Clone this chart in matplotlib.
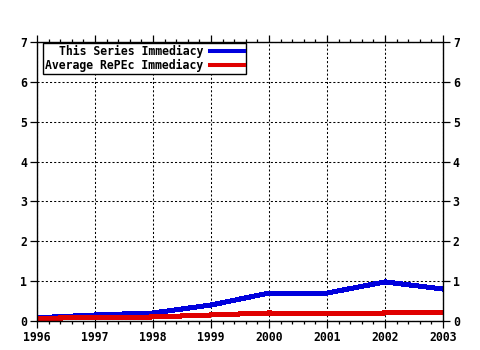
import matplotlib
matplotlib.use("Agg")
import matplotlib.pyplot as plt
from matplotlib.ticker import MultipleLocator

years = [1996, 1997, 1998, 1999, 2000, 2001, 2002, 2003]
series_immediacy = [0.08, 0.15, 0.20, 0.40, 0.70, 0.70, 0.98, 0.80]
repec_immediacy = [0.07, 0.08, 0.10, 0.15, 0.20, 0.18, 0.20, 0.22]
series_labels = ["This Series Immediacy", "Average RePEc Immediacy"]

font = {"family": "DejaVu Sans Mono", "weight": "bold", "size": 8.3}

fig = plt.figure(figsize=(4.8, 3.5), dpi=100)
ax = fig.add_axes([0.077, 0.083, 0.846, 0.797])

ax.plot(years, series_immediacy, color="#0000dd", lw=2.9, label=series_labels[0],
        antialiased=False, solid_joinstyle="miter")
ax.plot(years, repec_immediacy, color="#e00000", lw=2.9, label=series_labels[1],
        antialiased=False, solid_joinstyle="miter")

ax.set_xlim(years[0], years[-1])
ax.set_ylim(0, 7)
ax.xaxis.set_major_locator(MultipleLocator(1))
ax.xaxis.set_minor_locator(MultipleLocator(0.2))
ax.yaxis.set_major_locator(MultipleLocator(1))

# dotted grid: 2px on, 2px off
ax.grid(True, which="major", color="black", linestyle=(0, (2, 2)), linewidth=0.75)
ax.tick_params(which="both", direction="out", top=True, right=True,
               labelright=True, color="black", width=0.9)
ax.tick_params(which="major", length=5, pad=2)
ax.tick_params(which="minor", length=2.5)
for spine in ax.spines.values():
    spine.set_linewidth(1.0)

for lbl in ax.get_xticklabels() + ax.get_yticklabels():
    lbl.set_fontproperties(font)
for t in ax.yaxis.get_major_ticks():
    t.label2.set_fontproperties(font)

leg = ax.legend(loc="upper left", bbox_to_anchor=(0.015, 0.997), markerfirst=False,
                prop=font, frameon=True, fancybox=False, borderpad=0.15,
                labelspacing=0.15, handlelength=3.0, handletextpad=0.6,
                borderaxespad=0.0)
leg.get_frame().set_edgecolor("black")
leg.get_frame().set_linewidth(1.0)
leg.get_frame().set_alpha(1.0)

fig.savefig("out.png", dpi=100)
